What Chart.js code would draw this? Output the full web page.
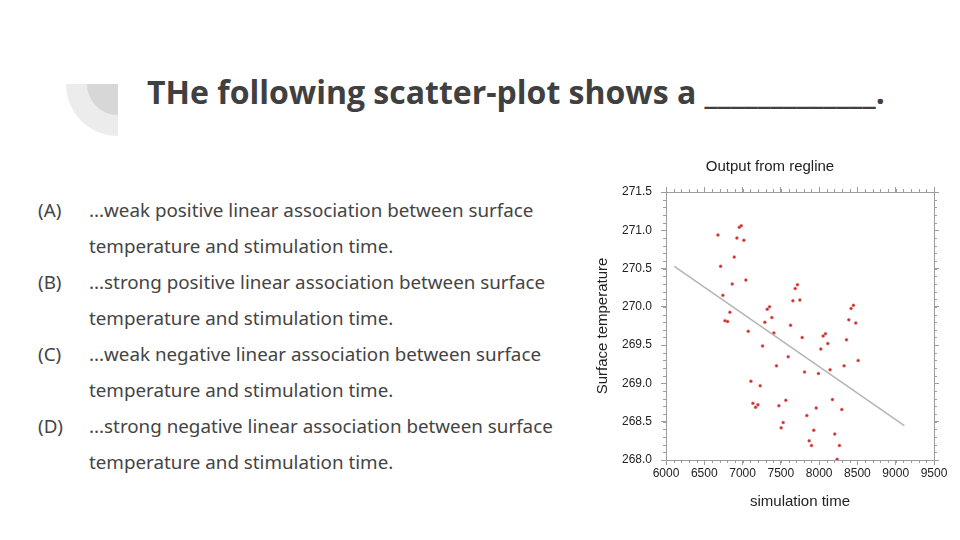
<!DOCTYPE html>
<html>
<head>
<meta charset="utf-8">
<script src="https://cdn.jsdelivr.net/npm/chart.js@4.4.1/dist/chart.umd.min.js"></script>
<style>
    html, body { margin: 0; padding: 0; background: #fff; }
    body { width: 960px; height: 540px; position: relative; overflow: hidden; }
    .deco { position: absolute; left: 66px; top: 84px; width: 52px; height: 52px;
        background: #ececec; border-bottom-left-radius: 52px; }
    .deco-inner { position: absolute; left: 87px; top: 84px; width: 31px; height: 31px;
        background: #d7d7d7; border-bottom-left-radius: 31px; }
    .title { position: absolute; left: 147px; top: 71px; font-family: 'Open Sans', sans-serif;
        font-weight: 700; font-size: 32px; color: #404040; white-space: nowrap; line-height: 42px; }
    .opt { position: absolute; font-family: 'Noto Sans', sans-serif; font-size: 18.8px; color: #444;
        white-space: nowrap; line-height: 22px; }
    .chart-box { position: absolute; left: 590px; top: 151px; width: 360px; height: 360px; }
</style>
</head>
<body>
<div class="deco"></div>
<div class="deco-inner"></div>
<div class="title">THe following scatter-plot shows a _____________.</div>

<div class="opt" style="left:38px; top:199px;">(A)</div>
<div class="opt" style="left:89px; top:199px;">...weak positive linear association between surface</div>
<div class="opt" style="left:89px; top:235px;">temperature and stimulation time.</div>
<div class="opt" style="left:38px; top:271px;">(B)</div>
<div class="opt" style="left:89px; top:271px;">...strong positive linear association between surface</div>
<div class="opt" style="left:89px; top:307px;">temperature and stimulation time.</div>
<div class="opt" style="left:38px; top:343px;">(C)</div>
<div class="opt" style="left:89px; top:343px;">...weak negative linear association between surface</div>
<div class="opt" style="left:89px; top:379px;">temperature and stimulation time.</div>
<div class="opt" style="left:38px; top:415px;">(D)</div>
<div class="opt" style="left:89px; top:415px;">...strong negative linear association between surface</div>
<div class="opt" style="left:89px; top:451px;">temperature and stimulation time.</div>

<div class="chart-box"><canvas id="scatterChart" width="360" height="360"></canvas></div>

<script>
// simulation time of each sample
const timeValues = [
    6678, 6713, 6743, 6770, 6804, 6835, 6865, 6891, 6926, 6957,
    6983, 7017, 7043, 7074, 7109, 7135, 7170, 7200, 7230, 7261,
    7291, 7322, 7352, 7383, 7409, 7443, 7474, 7504, 7530, 7565,
    7596, 7626, 7657, 7687, 7717, 7748, 7778, 7809, 7839, 7870,
    7900, 7930, 7961, 7991, 8022, 8052, 8083, 8113, 8143, 8174,
    8204, 8235, 8265, 8296, 8326, 8357, 8387, 8417, 8448, 8478,
    8509
];

// surface temperature of each sample
const tempValues = [
    270.94, 270.53, 270.15, 269.82, 269.81, 269.93, 270.30, 270.65, 270.90, 271.04,
    271.06, 270.87, 270.35, 269.68, 269.03, 268.74, 268.69, 268.72, 268.97, 269.49,
    269.80, 269.97, 270.00, 269.86, 269.66, 269.23, 268.71, 268.42, 268.49, 268.78,
    269.35, 269.76, 270.08, 270.24, 270.29, 270.09, 269.60, 269.15, 268.58, 268.25,
    268.19, 268.39, 268.68, 269.13, 269.45, 269.62, 269.65, 269.52, 269.18, 268.79,
    268.34, 268.01, 268.19, 268.66, 269.23, 269.57, 269.83, 269.98, 270.02, 269.79,
    269.30
];

// regression line end points
const fitX = [6109, 9113];
const fitY = [270.53, 268.45];

// axis ranges
const xRange = [6000, 9500];
const yRange = [268.0, 271.5];
const xMajor = 500, xMinor = 100;
const yMajor = 0.5, yMinor = 0.1;

const axisColor = '#9c9c9c';
const textColor = '#222';
const fontFamily = "'Liberation Sans', Arial, sans-serif";

// Fixed box sizes so the plot area lands where the reference has it
const fixWidth = (w) => (scale) => { scale.width = w; };
const fixHeight = (h) => (scale) => { scale.height = h; };

// Small minor ticks outside the frame on all four sides
const minorTicks = {
    id: 'minorTicks',
    afterDraw(chart) {
        const ctx = chart.ctx;
        const area = chart.chartArea;
        const len = 3;
        ctx.save();
        ctx.strokeStyle = axisColor;
        ctx.lineWidth = 1;
        ctx.beginPath();
        const nx = Math.round((xRange[1] - xRange[0]) / xMinor);
        for (let i = 0; i <= nx; i++) {
            const px = Math.round(chart.scales.x.getPixelForValue(xRange[0] + i * xMinor)) + 0.5;
            ctx.moveTo(px, area.bottom); ctx.lineTo(px, area.bottom + len);
            ctx.moveTo(px, area.top); ctx.lineTo(px, area.top - len);
        }
        const ny = Math.round((yRange[1] - yRange[0]) / yMinor);
        for (let i = 0; i <= ny; i++) {
            const py = Math.round(chart.scales.y.getPixelForValue(yRange[0] + i * yMinor)) + 0.5;
            ctx.moveTo(area.left, py); ctx.lineTo(area.left - len, py);
            ctx.moveTo(area.right, py); ctx.lineTo(area.right + len, py);
        }
        ctx.stroke();
        ctx.restore();
    }
};

const gridOpts = {
    display: true,
    drawOnChartArea: false,
    drawTicks: true,
    tickLength: 5,
    color: axisColor,
    lineWidth: 1
};
const borderOpts = { display: true, color: axisColor, width: 1 };

const points = timeValues.map((t, i) => ({ x: t, y: tempValues[i] }));
const fitLine = fitX.map((t, i) => ({ x: t, y: fitY[i] }));

new Chart(document.getElementById('scatterChart'), {
    type: 'scatter',
    data: {
        datasets: [
            {
                type: 'line',
                data: fitLine,
                borderColor: '#b4b4b4',
                borderWidth: 1.5,
                pointRadius: 0,
                fill: false
            },
            {
                data: points,
                backgroundColor: '#cc2a2a',
                borderColor: '#e27a7a',
                borderWidth: 0.5,
                pointRadius: 1.5
            }
        ]
    },
    options: {
        responsive: false,
        animation: false,
        plugins: {
            legend: { display: false },
            tooltip: { enabled: false },
            title: {
                display: true,
                text: 'Output from regline',
                color: textColor,
                font: { size: 15, family: fontFamily, weight: 'normal', lineHeight: 1.2 },
                padding: { top: 7, bottom: 0 }
            }
        },
        scales: {
            x: {
                type: 'linear',
                position: 'bottom',
                min: xRange[0],
                max: xRange[1],
                grid: gridOpts,
                border: borderOpts,
                ticks: {
                    stepSize: xMajor,
                    color: textColor,
                    padding: 1,
                    maxRotation: 0,
                    autoSkip: false,
                    font: { size: 12, family: fontFamily },
                    callback: (v) => String(v)
                },
                title: {
                    display: true,
                    text: 'simulation time',
                    color: textColor,
                    font: { size: 15, family: fontFamily, lineHeight: 1.2 },
                    padding: { top: 0, bottom: 0 }
                },
                afterFit: fixHeight(51)
            },
            x2: {
                type: 'linear',
                axis: 'x',
                position: 'top',
                min: xRange[0],
                max: xRange[1],
                grid: gridOpts,
                border: borderOpts,
                ticks: { stepSize: xMajor, display: false },
                afterFit: fixHeight(16)
            },
            y: {
                type: 'linear',
                position: 'left',
                min: yRange[0],
                max: yRange[1],
                grid: gridOpts,
                border: borderOpts,
                ticks: {
                    stepSize: yMajor,
                    color: textColor,
                    padding: 9,
                    autoSkip: false,
                    font: { size: 12, family: fontFamily },
                    callback: (v) => v.toFixed(1)
                },
                title: {
                    display: true,
                    text: 'Surface temperature',
                    color: textColor,
                    font: { size: 15, family: fontFamily, lineHeight: 1.2 },
                    padding: { top: 4, bottom: 0 }
                },
                afterFit: fixWidth(76)
            },
            y2: {
                type: 'linear',
                axis: 'y',
                position: 'right',
                min: yRange[0],
                max: yRange[1],
                grid: gridOpts,
                border: borderOpts,
                ticks: { stepSize: yMajor, display: false },
                afterFit: fixWidth(16)
            }
        }
    },
    plugins: [minorTicks]
});
</script>
</body>
</html>
